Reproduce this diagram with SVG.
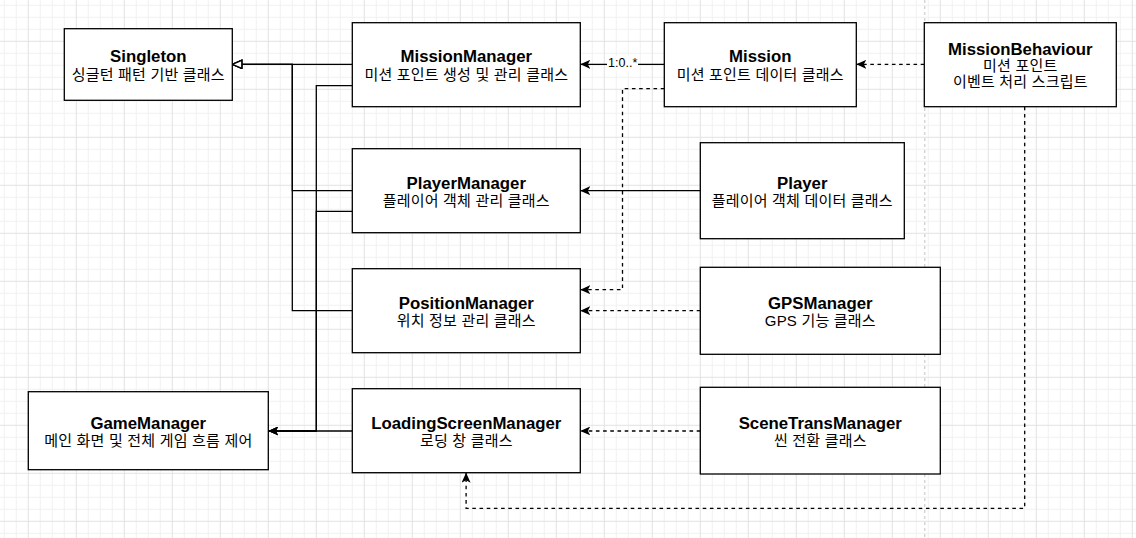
<svg xmlns="http://www.w3.org/2000/svg" width="1136" height="538" viewBox="0 0 1136 538">
<style>
.box{fill:#fff;stroke:#000;stroke-width:1.3}
.t{font-family:"Liberation Sans",Arial,sans-serif;font-weight:bold;font-size:16.8px;fill:#000;text-anchor:middle}
.s{font-family:"Liberation Sans","Noto Sans CJK KR",sans-serif;font-size:15px;letter-spacing:0.2px;fill:#000;text-anchor:middle}
.e{fill:none;stroke:#000;stroke-width:1.3}
.d{stroke-dasharray:3.6 3.6}
.lbl{font-family:"Liberation Sans",Arial,sans-serif;font-size:12.5px;fill:#000;text-anchor:middle}
</style>
<defs>
<pattern id="grid" width="48" height="48" patternUnits="userSpaceOnUse" x="27.8" y="40.8">
<path d="M12.5 0V48M24.5 0V48M36.5 0V48M0 12.5H48M0 24.5H48M0 36.5H48" stroke="#f1f1f1" stroke-width="1" fill="none"/>
<path d="M0.5 0V48M0 0.5H48" stroke="#e2e2e2" stroke-width="1" fill="none"/>
</pattern>
<marker id="arr" viewBox="0 0 10 9" refX="10" refY="4.5" markerWidth="10" markerHeight="9" orient="auto" markerUnits="userSpaceOnUse">
<path d="M0,0 L10,4.5 L0,9 L2.5,4.5 Z" fill="#000"/>
</marker>
<marker id="inh" viewBox="0 0 12 10" refX="11" refY="5" markerWidth="12" markerHeight="10" orient="auto" markerUnits="userSpaceOnUse">
<path d="M1.5,1 L11,5 L1.5,9 Z" fill="#fff" stroke="#000" stroke-width="1.3"/>
</marker>
</defs>
<rect width="1136" height="538" fill="#fff"/>
<rect width="1136" height="538" fill="url(#grid)"/>
<line x1="924.8" y1="0" x2="924.8" y2="538" stroke="#c2c2c2" stroke-width="1" stroke-dasharray="3 3"/>

<g id="connectors">
<path class="e" d="M352.3,64.3 H232.3" marker-end="url(#inh)"/>
<path class="e" d="M352.3,190.7 H292.3 V64.3 H232.3" marker-end="url(#inh)"/>
<path class="e" d="M352.3,310.7 H292.3 V64.3 H232.3" marker-end="url(#inh)"/>
<path class="e" d="M352.3,85.7 H316.3 V431 H268.3" marker-end="url(#arr)"/>
<path class="e" d="M352.3,211.3 H316.3 V431 H268.3" marker-end="url(#arr)"/>
<path class="e" d="M352.3,431 H268.3" marker-end="url(#arr)"/>
<g id="mission-to-missionmanager">
<path class="e" d="M664.3,64.3 H580.3" marker-end="url(#arr)"/>
<rect x="607" y="56" width="31" height="15" fill="#fff"/>
<text class="lbl" x="622.7" y="67">1:0..*</text>
</g>
<path class="e d" d="M924.3,64.3 H856.3" marker-end="url(#arr)"/>
<path class="e d" d="M664.3,88.7 H622.5 V289.7 H580.3" marker-end="url(#arr)"/>
<path class="e" d="M700.3,190.7 H580.3" marker-end="url(#arr)"/>
<path class="e d" d="M700.3,310.7 H580.3" marker-end="url(#arr)"/>
<path class="e d" d="M700.3,431 H580.3" marker-end="url(#arr)"/>
<path class="e d" d="M1024.7,106.7 V508.3 H466.1 V472.7" marker-end="url(#arr)"/>
</g>

<g id="singleton">
<rect class="box" x="64.3" y="28.7" width="168" height="71.6"/>
<text class="t" x="148.3" y="62">Singleton</text>
<text class="s" x="148.3" y="79.8">싱글턴 패턴 기반 클래스</text>
</g>
<g id="missionmanager">
<rect class="box" x="352.3" y="22.7" width="228" height="84"/>
<text class="t" x="466.3" y="62">MissionManager</text>
<text class="s" x="466.3" y="79.8">미션 포인트 생성 및 관리 클래스</text>
</g>
<g id="mission">
<rect class="box" x="664.3" y="22.7" width="192" height="84"/>
<text class="t" x="760.3" y="62">Mission</text>
<text class="s" x="760.3" y="79.8">미션 포인트 데이터 클래스</text>
</g>
<g id="missionbehaviour">
<rect class="box" x="924.3" y="22.7" width="192" height="84"/>
<text class="t" x="1020.3" y="54.5">MissionBehaviour</text>
<text class="s" x="1020.3" y="71.2">미션 포인트</text>
<text class="s" x="1020.3" y="87.2">이벤트 처리 스크립트</text>
</g>
<g id="playermanager">
<rect class="box" x="352.3" y="148.7" width="228" height="84"/>
<text class="t" x="466.3" y="188.5">PlayerManager</text>
<text class="s" x="466.3" y="205.8">플레이어 객체 관리 클래스</text>
</g>
<g id="player">
<rect class="box" x="700.3" y="142.7" width="204" height="96"/>
<text class="t" x="802.3" y="188.5">Player</text>
<text class="s" x="802.3" y="205.8">플레이어 객체 데이터 클래스</text>
</g>
<g id="positionmanager">
<rect class="box" x="352.3" y="268.7" width="228" height="84"/>
<text class="t" x="466.3" y="308.5">PositionManager</text>
<text class="s" x="466.3" y="326">위치 정보 관리 클래스</text>
</g>
<g id="gpsmanager">
<rect class="box" x="700.3" y="267.3" width="240" height="87"/>
<text class="t" x="820.3" y="308.5">GPSManager</text>
<text class="s" x="820.3" y="326">GPS 기능 클래스</text>
</g>
<g id="gamemanager">
<rect class="box" x="28.3" y="391.7" width="240" height="78"/>
<text class="t" x="148.3" y="428.5">GameManager</text>
<text class="s" x="148.3" y="446.2">메인 화면 및 전체 게임 흐름 제어</text>
</g>
<g id="loadingscreenmanager">
<rect class="box" x="352.3" y="388.7" width="228" height="84"/>
<text class="t" x="466.3" y="428.5">LoadingScreenManager</text>
<text class="s" x="466.3" y="446.2">로딩 창 클래스</text>
</g>
<g id="scenetransmanager">
<rect class="box" x="700.3" y="387.3" width="240" height="86.7"/>
<text class="t" x="820.3" y="428.5">SceneTransManager</text>
<text class="s" x="820.3" y="446.2">씬 전환 클래스</text>
</g>
</svg>
